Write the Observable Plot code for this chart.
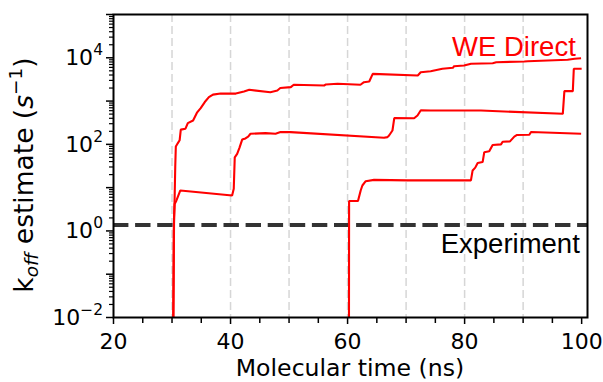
<!DOCTYPE html>
<html><head><meta charset="utf-8">
<script src="https://cdn.jsdelivr.net/npm/d3@7"></script>
<script src="https://cdn.jsdelivr.net/npm/@observablehq/plot@0.6"></script>
<style>
html,body{margin:0;padding:0;background:#fff;}
#chart svg{display:block;}
</style>
</head><body><div id="chart"></div>
<script>
// Run A (top curve)
const tA = [30.2, 30.3, 30.45, 30.55, 30.65, 31.0, 31.3, 31.5, 32.3, 32.7, 33.6, 34.3, 34.9, 35.6, 36.3, 37.0, 38.3, 40.9, 42.3, 43.2, 46.8, 48.0, 48.5, 50.3, 50.8, 56.0, 56.3, 58.3, 62.2, 62.8, 63.7, 64.3, 72.0, 72.5, 74.2, 76.2, 78.0, 78.2, 79.9, 81.1, 84.8, 85.4, 90.2, 90.8, 97.6, 98.8, 99.9];
const kA = [0.01, 1, 6, 30, 89, 107, 124, 219, 230, 310, 355, 550, 690, 950, 1230, 1410, 1490, 1490, 1660, 1820, 1600, 1760, 2000, 2100, 2380, 2290, 2420, 2510, 2380, 2730, 2830, 4260, 3900, 4650, 4900, 5570, 5880, 6400, 6620, 7260, 7500, 7900, 8220, 8330, 9000, 9480, 9780];
// Run B (middle curve)
const tB = [30.25, 30.35, 30.45, 30.74, 31.42, 40.27, 40.55, 40.72, 41.13, 41.52, 41.99, 42.55, 43.01, 43.41, 45.98, 47.69, 48.54, 50.26, 66.23, 66.82, 67.09, 67.67, 67.98, 71.37, 71.95, 72.52, 74.23, 82.79, 96.78, 97.05, 98.49, 98.66, 100];
const kB = [0.01, 2, 4.2, 5.0, 8.6, 6.6, 9.4, 50, 60, 83, 129, 137, 151, 176, 182, 176, 192, 192, 142, 147, 160, 209, 405, 400, 465, 615, 605, 605, 508, 1700, 1700, 5570, 5570];
// Run C (bottom curve)
const tC = [60.24, 60.26, 61.78, 62.24, 62.53, 63.1, 64.52, 70.24, 81.08, 81.37, 81.82, 82.23, 83.08, 83.36, 84.21, 84.79, 86.22, 86.5, 87.75, 88.49, 88.96, 91.06, 91.35, 99.91];
const kC = [0.01, 4.9, 4.9, 8.6, 11.2, 14.1, 15.1, 14.7, 14.7, 25, 29, 37, 39, 66, 69, 97, 100, 115, 117, 151, 165, 167, 193, 176];

const experimentRate = 1.37;
const seriesLabel = "WE Direct";
const referenceLabel = "Experiment";
const xTickValues = [20, 40, 60, 80, 100];
const yTickExponents = [-2, 0, 2, 4];
const gridTimes = [30, 40, 50, 60, 70, 80, 90];
const xLabel = "Molecular time (ns)";

const rows = (t, k, run) => t.map((d, i) => ({t: d, k: k[i], run}));
const data = [...rows(tA, kA, "A"), ...rows(tB, kB, "B"), ...rows(tC, kC, "C")];

const xMinor = d3.range(20, 101, 5).filter(d => !xTickValues.includes(d));
const yDecades = d3.range(-2, 6).map(e => Math.pow(10, e));
const yMinor = d3.range(-2, 5).flatMap(e => d3.range(2, 10).map(m => m * Math.pow(10, e)));

const FONT = "DejaVu Sans";
const chart = Plot.plot({
  width: 603, height: 382,
  marginLeft: 113, marginRight: 16, marginTop: 14, marginBottom: 65,
  style: {fontFamily: FONT, background: "#fff"},
  x: {domain: [20, 101]},
  y: {type: "log", domain: [1e-2, 1e5]},
  marks: [
    Plot.ruleX(gridTimes, {stroke: "#d6d6d6", strokeWidth: 1.5, strokeDasharray: "8,4"}),
    Plot.ruleY([experimentRate], {stroke: "#333333", strokeWidth: 4.2, strokeDasharray: "15.4,6.7"}),
    Plot.line(data, {x: "t", y: "k", z: "run", stroke: "#ff0000", strokeWidth: 2.1, clip: true, strokeLinejoin: "miter", strokeLinecap: "butt"}),
    Plot.text([seriesLabel], {frameAnchor: "top-right", textAnchor: "end", lineAnchor: "top", dx: -11.7, dy: 21.8, fill: "#ff0000", fontSize: 27.5, fontFamily: "Liberation Sans"}),
    Plot.text([referenceLabel], {x: () => 101, y: () => experimentRate, textAnchor: "end", lineAnchor: "top", dx: -7.7, dy: 8.5, fill: "#000", fontSize: 27.5, fontFamily: "Liberation Sans"}),
    Plot.frame({stroke: "#000", strokeWidth: 2}),
    Plot.axisX(xTickValues, {tickSize: 7, tickPadding: 9, fontSize: 22, strokeWidth: 1.5, label: null, tickFormat: d => String(d)}),
    Plot.axisX(xMinor, {tickSize: 6, strokeWidth: 1.5, label: null, tickFormat: () => ""}),
    Plot.axisY(yDecades, {tickSize: 7, strokeWidth: 1.5, label: null, tickFormat: () => ""}),
    Plot.axisY(yMinor, {tickSize: 4, strokeWidth: 1.2, label: null, tickFormat: () => ""})
  ]
});
document.getElementById("chart").appendChild(chart);

const svg = d3.select(chart);
const ys = chart.scale("y");
// y tick labels with superscript exponents
yTickExponents.forEach(e => {
  const y = ys.apply(Math.pow(10, e));
  const t = svg.append("text")
    .attr("x", 103).attr("y", y + 8)
    .attr("text-anchor", "end")
    .attr("font-family", FONT).attr("font-size", 22).attr("fill", "#000");
  t.append("tspan").text("10");
  t.append("tspan").attr("dy", -10).attr("font-size", 15.5).text(e < 0 ? "\u2212" + Math.abs(e) : String(e));
});
// x axis label
svg.append("text")
  .attr("x", (113 + 587) / 2).attr("y", 376)
  .attr("text-anchor", "middle")
  .attr("font-family", FONT).attr("font-size", 23.6).attr("fill", "#000")
  .text(xLabel);
// y axis label with subscript/superscript
const yl = svg.append("text")
  .attr("transform", "translate(33,175) rotate(-90)")
  .attr("text-anchor", "middle")
  .attr("font-family", FONT).attr("font-size", 26.5).attr("fill", "#000");
yl.append("tspan").text("k");
yl.append("tspan").attr("font-size", 18.5).attr("font-style", "italic").attr("dy", 5).text("off");
yl.append("tspan").attr("dy", -5).text(" estimate (");
yl.append("tspan").attr("font-style", "italic").text("s");
yl.append("tspan").attr("font-size", 18.5).attr("dy", -11).text("\u22121");
yl.append("tspan").attr("dy", 11).text(")");
</script>
</body></html>
